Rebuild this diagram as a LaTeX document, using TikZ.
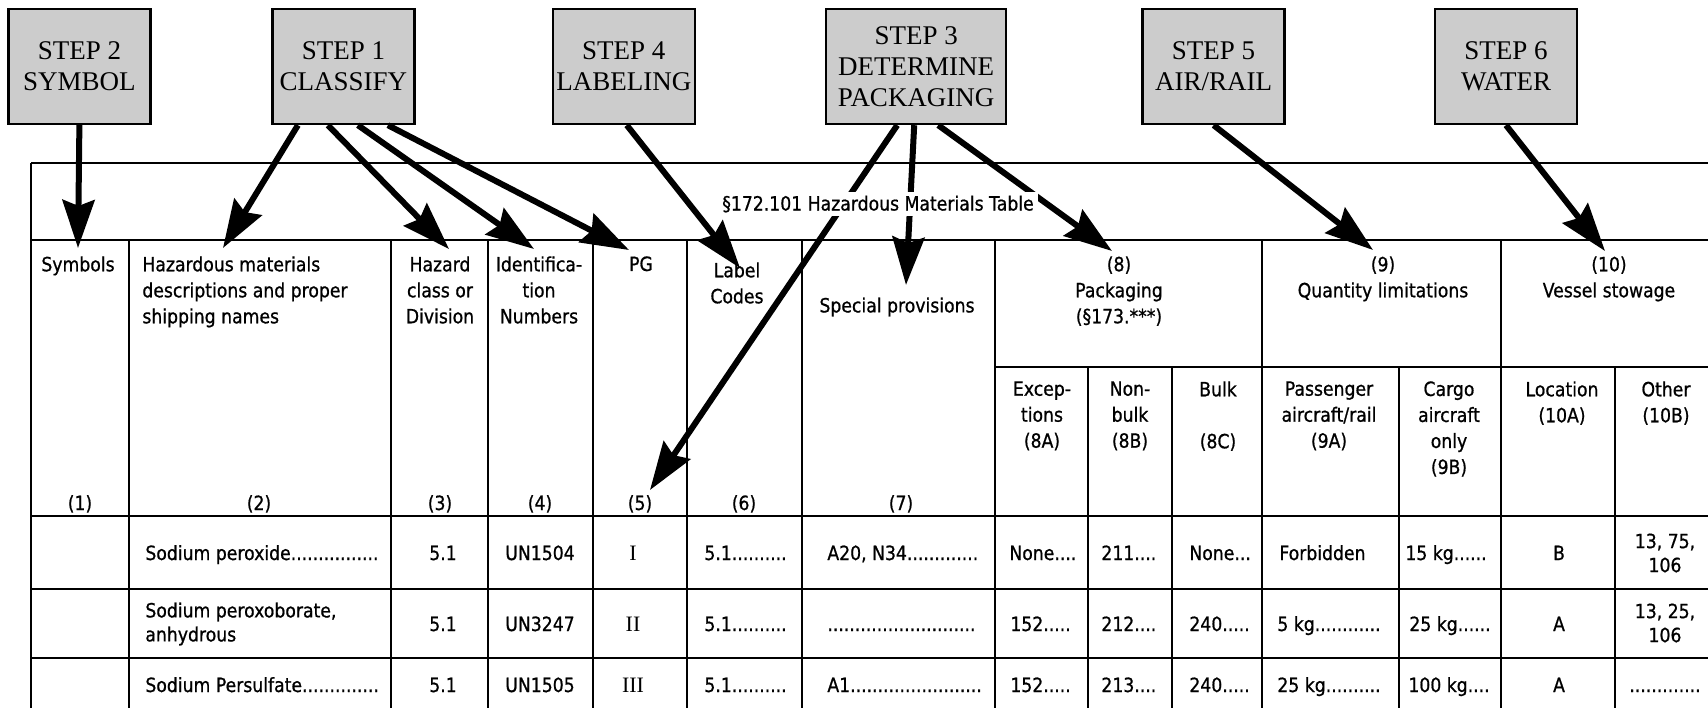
\documentclass[tikz,border=0pt]{standalone}
\usepackage{fontspec}
\usepackage{tikz}
\usetikzlibrary{arrows.meta,positioning}

\newfontfamily\stepfont{Liberation Serif}
\newfontfamily\tabfont[FakeStretch=0.88,FakeBold=0.8]{DejaVu Sans}

\tikzset{
  stepbox/.style={draw,line width=1.2pt,fill=black!20,minimum width=71pt,minimum height=57.5pt,
    align=center,inner sep=0pt,font=\stepfont\fontsize{13.5}{15.5}\selectfont},
  head/.style={font=\tabfont\fontsize{9.8}{13}\selectfont,align=center,inner sep=0pt,anchor=north},
  cell/.style={font=\tabfont\fontsize{9.8}{12}\selectfont,align=center,inner sep=0pt,anchor=base},
  cellL/.style={cell,anchor=base west,align=left},
  pg/.style={cell,font=\stepfont\fontsize{11}{13}\selectfont},
  tabline/.style={line width=1.2pt},
  steparrow/.style={line width=3pt,-{Stealth[length=24pt,width=16pt,inset=3pt]}},
}

\begin{document}
\begin{tikzpicture}[x=0.5pt,y=-0.5pt]
  \useasboundingbox (0,0) rectangle (1708,712);

  % Define nodes
  \node[stepbox] (s2) at (79.4,66.5) {STEP 2\\SYMBOL};
  \node[stepbox, right=59.8pt of s2] (s1) {STEP 1\\CLASSIFY};
  \node[stepbox, right=68pt of s1] (s4) {STEP 4\\LABELING};
  \node[stepbox, minimum width=90pt, right=64.5pt of s4] (s3) {STEP 3\\DETERMINE\\PACKAGING};
  \node[stepbox, right=67pt of s3] (s5) {STEP 5\\AIR/RAIL};
  \node[stepbox, right=74pt of s5] (s6) {STEP 6\\WATER};

  % Table rules
  \draw[tabline] (31,163) -- (1708,163);
  \draw[tabline] (31,163) -- (31,708);
  \foreach \y in {240,516,589,658} \draw[tabline] (31,\y) -- (1708,\y);
  \draw[tabline] (995,367) -- (1708,367);
  \foreach \x in {129,391,488,593,687,802,995,1262,1501} \draw[tabline] (\x,240) -- (\x,708);
  \foreach \x in {1088,1172,1399,1615} \draw[tabline] (\x,367) -- (\x,708);

  % Column heads
  \node[head] (h1) at (78,256) {Symbols};
  \node[head,anchor=north west,align=left] (h2) at (142,256) {Hazardous materials\\descriptions and proper\\shipping names};
  \node[head] (h3) at (440,256) {Hazard\\class or\\Division};
  \node[head] (h4) at (539,256) {Identifica-\\tion\\Numbers};
  \node[head] (h5) at (641,256) {PG};
  \node[head] (h6) at (737,262) {Label\\Codes};
  \node[head,anchor=center] (h7) at (897,307) {Special provisions};
  \node[head] (h8) at (1119,256) {(8)\\Packaging\\(§173.***)};
  \node[head] (h9) at (1383,256) {(9)\\Quantity limitations};
  \node[head] (h10) at (1609,256) {(10)\\Vessel stowage};
  \node[head] (h8a) at (1042,381) {Excep-\\tions\\(8A)};
  \node[head] (h8b) at (1130,381) {Non-\\bulk\\(8B)};
  \node[head] (h8c) at (1218,381) {Bulk\\~\\(8C)};
  \node[head] (h9a) at (1329,381) {Passenger\\aircraft/rail\\(9A)};
  \node[head] (h9b) at (1449,381) {Cargo\\aircraft\\only\\(9B)};
  \node[head] (h10a) at (1562,381) {Location\\(10A)};
  \node[head] (h10b) at (1666,381) {Other\\(10B)};
  \foreach \x/\n in {80/1,259/2,440/3,540/4,640/5,744/6,901/7}
    \node[cell] (n\n) at (\x,510) {(\n)};

  % Row 1
  \node[cellL] (r1b) at (145,560) {Sodium peroxide................};
  \node[cell] (r1c) at (443,560) {5.1};
  \node[cell] (r1d) at (540,560) {UN1504};
  \node[pg] (r1e) at (633,560) {I};
  \node[cellL] (r1f) at (704,560) {5.1..........};
  \node[cellL] (r1g) at (827,560) {A20, N34.............};
  \node[cellL] (r1h) at (1009,560) {None....};
  \node[cellL] (r1i) at (1101,560) {211....};
  \node[cellL] (r1j) at (1189,560) {None...};
  \node[cellL] (r1k) at (1279,560) {Forbidden};
  \node[cellL] (r1l) at (1405,560) {15 kg......};
  \node[cell] (r1m) at (1559,560) {B};
  \node[cell,anchor=center] (r1n) at (1665,553) {13, 75,\\106};

  % Row 2
  \node[cell,anchor=west,align=left] (r2b) at (145,624) {Sodium peroxoborate,\\anhydrous};
  \node[cell] (r2c) at (443,631) {5.1};
  \node[cell] (r2d) at (540,631) {UN3247};
  \node[pg] (r2e) at (633,631) {II};
  \node[cellL] (r2f) at (704,631) {5.1..........};
  \node[cellL] (r2g) at (827,631) {...........................};
  \node[cellL] (r2h) at (1010,631) {152.....};
  \node[cellL] (r2i) at (1101,631) {212....};
  \node[cellL] (r2j) at (1189,631) {240.....};
  \node[cellL] (r2k) at (1277,631) {5 kg............};
  \node[cellL] (r2l) at (1409,631) {25 kg......};
  \node[cell] (r2m) at (1559,631) {A};
  \node[cell,anchor=center] (r2n) at (1665,623) {13, 25,\\106};

  % Row 3
  \node[cellL] (r3b) at (145,692) {Sodium Persulfate..............};
  \node[cell] (r3c) at (443,692) {5.1};
  \node[cell] (r3d) at (540,692) {UN1505};
  \node[pg] (r3e) at (633,692) {III};
  \node[cellL] (r3f) at (704,692) {5.1..........};
  \node[cellL] (r3g) at (827,692) {A1........................};
  \node[cellL] (r3h) at (1010,692) {152.....};
  \node[cellL] (r3i) at (1101,692) {213....};
  \node[cellL] (r3j) at (1189,692) {240.....};
  \node[cellL] (r3k) at (1277,692) {25 kg..........};
  \node[cellL] (r3l) at (1408,692) {100 kg....};
  \node[cell] (r3m) at (1559,692) {A};
  \node[cell] (r3n) at (1665,692) {.............};

  % Arrow ends
  \coordinate (a-sym) at (78,248);
  \coordinate (a-haz) at (223,248);
  \coordinate (a-cls) at (449,249);
  \coordinate (a-id)  at (534,249);
  \coordinate (a-pg)  at (629,250);
  \coordinate (a-lab) at (740,268);
  \coordinate (a-pgn) at (650,490);
  \coordinate (a-sp)  at (906,285);
  \coordinate (a-pkg) at (1112,251);
  \coordinate (a-qty) at (1373,250);
  \coordinate (a-ves) at (1605,251);

  % Steps
  \draw[steparrow] (s2.south) -- (a-sym);
  \draw[steparrow] ([xshift=-22.75pt]s1.south) -- (a-haz);
  \draw[steparrow] ([xshift=-7.75pt]s1.south) -- (a-cls);
  \draw[steparrow] ([xshift=7.25pt]s1.south) -- (a-id);
  \draw[steparrow] ([xshift=22.25pt]s1.south) -- (a-pg);
  \draw[steparrow] ([xshift=1.5pt]s4.south) -- (a-lab);
  \draw[steparrow] ([xshift=-9.5pt]s3.south) -- (a-pgn);
  \draw[steparrow] ([xshift=-1pt]s3.south) -- (a-sp);
  \draw[steparrow] ([xshift=11pt]s3.south) -- (a-pkg);
  \draw[steparrow] (s5.south) -- (a-qty);
  \draw[steparrow] (s6.south) -- (a-ves);

  \node[cell,anchor=center,fill=white,inner sep=2pt] (title) at (878,204) {§172.101 Hazardous Materials Table};

\end{tikzpicture}
\end{document}
